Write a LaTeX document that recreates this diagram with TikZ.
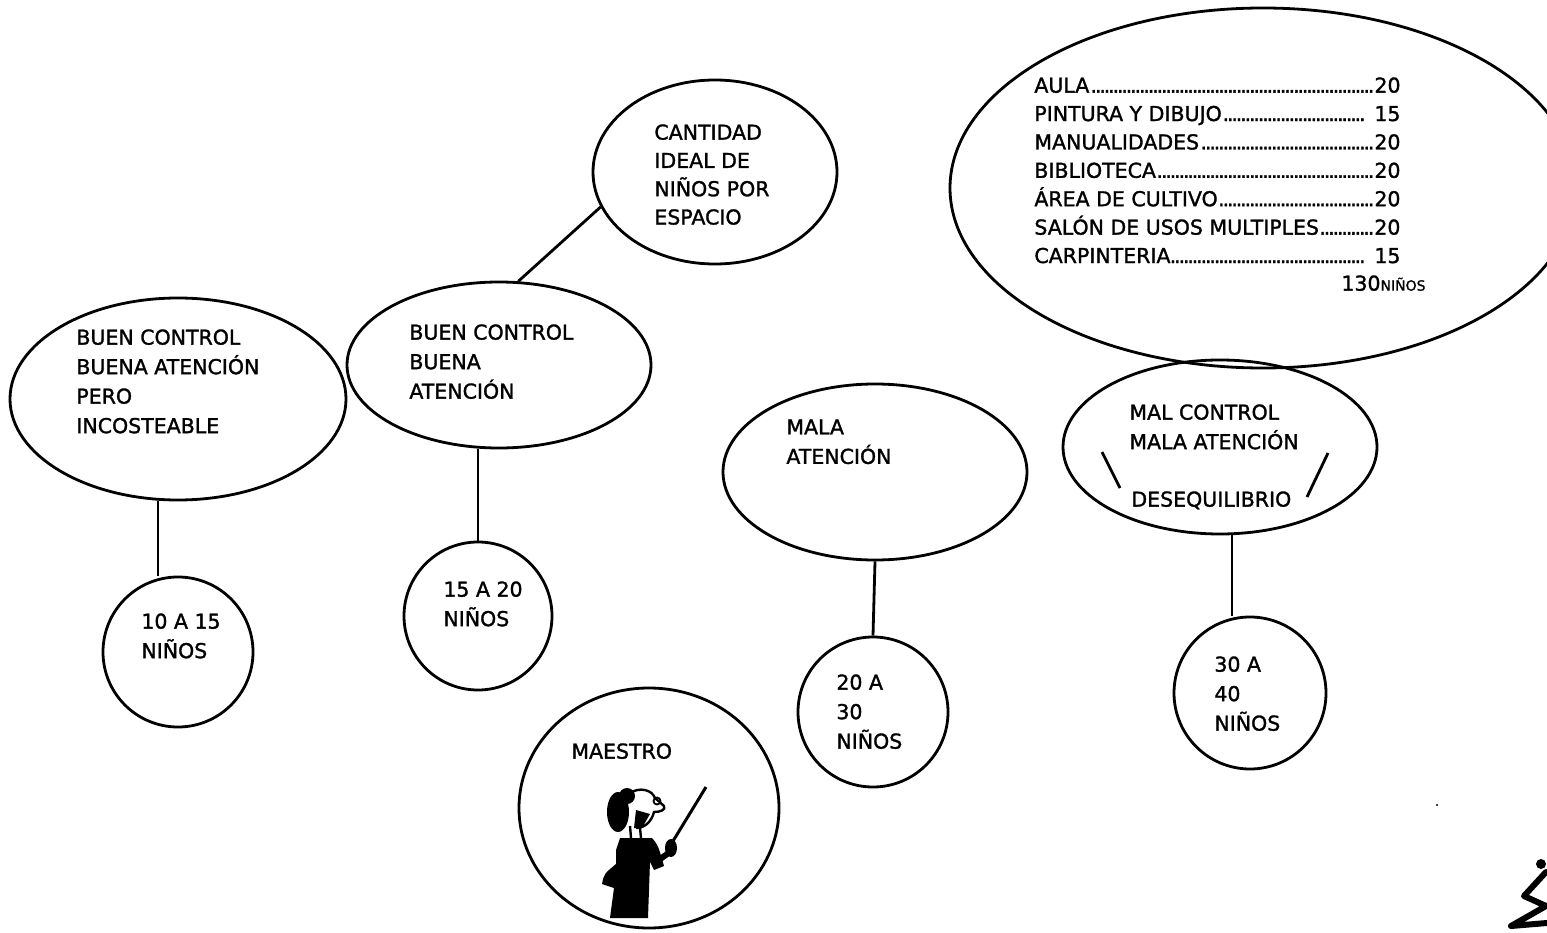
\documentclass[tikz,border=0pt]{standalone}
\usepackage{fontspec}
\setmainfont{DejaVu Sans}[FakeBold=1.4]
\usetikzlibrary{shapes}

\newcommand\puntos{\leaders\hbox to 4.4pt{\hss.\hss}\hfill}
\newcommand\renglon[2]{\makebox[366pt][l]{#1\puntos#2}}

\begin{document}
\begin{tikzpicture}[x=1pt,y=-1pt,line width=2.8pt,
    globo/.style={draw,ellipse,inner sep=0pt},
    bola/.style={draw,circle,inner sep=0pt,minimum size=150pt},
    texto/.style={anchor=north west,inner sep=0pt,align=left,
      font=\fontsize{20.5}{29.5}\selectfont}]
  \clip (0,0) rectangle (1547,933);

  \node[globo,minimum width=336pt,minimum height=202pt] (caro) at (178,399) {};
  \node[texto] (caro txt) at (75,328) {BUEN CONTROL\\BUENA ATENCIÓN\\PERO\\INCOSTEABLE};
  \node[bola] (diez) at (178,652) {};
  \node[texto] (diez txt) at (140,612) {10 A 15\\NIÑOS};

  \node[globo,minimum width=304pt,minimum height=166pt] (bueno) at (499,365) {};
  \node[texto] (bueno txt) at (408,323) {BUEN CONTROL\\BUENA\\ATENCIÓN};
  \node[bola,minimum size=148pt] (quince) at (478,616) {};
  \node[texto] (quince txt) at (442,580) {15 A 20\\NIÑOS};

  \node[globo,minimum width=244pt,minimum height=184pt] (ideal) at (715,172) {};
  \node[texto,font=\fontsize{20.5}{28.3}\selectfont] (ideal txt) at (653,123)
    {CANTIDAD\\IDEAL DE\\NIÑOS POR\\ESPACIO};

  \node[globo,minimum width=304pt,minimum height=176pt] (mala) at (875,472) {};
  \node[texto] (mala txt) at (785,418) {MALA\\ATENCIÓN};
  \node[bola] (veinte) at (873,712) {};
  \node[texto] (veinte txt) at (835,673) {20 A\\30\\NIÑOS};

  \node[globo,minimum width=260pt,minimum height=240pt] (maestro) at (649,808) {};
  \node[texto] (maestro txt) at (570,742) {MAESTRO};

  \node[globo,minimum width=626pt,minimum height=360pt] (salones) at (1263,188) {};
  \node[texto,font=\fontsize{20.5}{28.4}\selectfont] (salones txt) at (1033,76)
    {\renglon{AULA}{20}\\
     \renglon{PINTURA Y DIBUJO}{\ 15}\\
     \renglon{MANUALIDADES}{20}\\
     \renglon{BIBLIOTECA}{20}\\
     \renglon{ÁREA DE CULTIVO}{20}\\
     \renglon{SALÓN DE USOS MULTIPLES}{20}\\
     \renglon{CARPINTERIA}{\ 15}};
  \node[texto] (total) at (1340,274) {130{\fontsize{14}{14}\selectfont NIÑOS}};

  \node[globo,minimum width=314pt,minimum height=174pt] (desorden) at (1220,447) {};
  \node[texto] (desorden txt) at (1128,403) {MAL CONTROL\\MALA ATENCIÓN};
  \node[texto] (deseq) at (1130,490) {DESEQUILIBRIO};
  \node[bola,minimum size=152pt] (treinta) at (1250,693) {};
  \node[texto] (treinta txt) at (1213,655) {30 A\\40\\NIÑOS};

  \draw ([xshift=-20pt]caro.south) -- ([xshift=-20pt]diez.north);
  \draw (bueno.south -| quince.north) -- (quince.north);
  \draw (ideal.197) -- (bueno.77);
  \draw (mala.south) -- (veinte.north);
  \draw ([xshift=12pt]desorden.south) -- ([xshift=-18pt]treinta.north);
  \draw (1102,452) -- (1120,488);
  \draw (1328,453) -- (1307,497);

  % la maestra con el puntero
  \fill (618,812) ellipse [x radius=11pt,y radius=20pt];
  \fill (627,796) circle (8pt);
  \draw[line width=2.4pt] (628,794) .. controls (640,786) and (652,790) .. (655,798)
    -- (664,806) .. controls (666,810) and (660,812) .. (654,812)
    .. controls (652,820) and (646,828) .. (636,828);
  \fill (636,810) -- (650,814) -- (642,828) -- (634,828) -- cycle;
  \draw[line width=1.8pt] (657,801) circle (3.5pt);
  \draw[line width=2.4pt] (630,826) -- (631,838) (640,828) -- (641,838);
  \fill (620,838) -- (652,838) .. controls (658,845) .. (664,866) -- (654,870)
    -- (650,862) -- (648,918) -- (610,918) -- (614,888) -- (602,884)
    .. controls (604,874) .. (616,864) -- (616,850) -- cycle;
  \draw[line width=6pt] (656,862) -- (670,852);
  \fill (671,848) ellipse [x radius=6pt,y radius=9pt];
  \draw[line width=3pt] (670,846) -- (706,787);

  \fill (1437,805) circle (1.2pt);
  \fill (1541,864) circle (5pt);
  \draw[line width=6pt,line cap=round,line join=round]
    (1546,872) -- (1524,896) -- (1546,906) -- (1511,926) -- (1547,923);
\end{tikzpicture}
\end{document}
